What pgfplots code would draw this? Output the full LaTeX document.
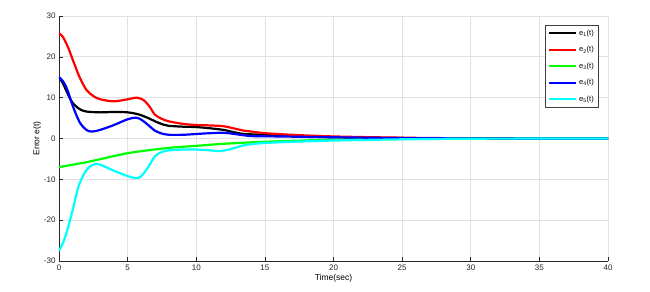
\documentclass[border=0pt]{standalone}
\usepackage{pgfplots}
\pgfplotsset{compat=1.18}
\usepackage{fontspec}
\setmainfont{Liberation Sans}
\definecolor{gridc}{RGB}{225,225,225}
\definecolor{axc}{RGB}{40,40,40}
\definecolor{cR}{RGB}{255,0,0}
\definecolor{cG}{RGB}{0,255,0}
\definecolor{cB}{RGB}{0,0,255}
\definecolor{cC}{RGB}{0,255,255}
\begin{document}
\begin{tikzpicture}
\begin{axis}[
  width=549pt, height=245pt, scale only axis,
  xmin=0, xmax=40, ymin=-30, ymax=30,
  xtick={0,5,...,40}, ytick={-30,-20,...,30},
  axis x line*=bottom, axis y line*=left,
  axis line style={axc, line width=0.8pt},
  tick style={axc, line width=0.6pt},
  major tick length=4pt,
  tick align=inside,
  grid=major, major grid style={gridc, line width=0.7pt},
  /pgf/number format/assume math mode=true,
  ticklabel style={font=\fontsize{8}{9}\selectfont, text=black!85},
  xlabel={Time(sec)}, ylabel={Error e(t)},
  label style={font=\fontsize{8.5}{10}\selectfont},
  xlabel style={yshift=3pt},
  ylabel style={yshift=-4pt},
  legend style={at={(0.983,0.963)}, anchor=north east, draw=black!75, line width=0.7pt,
    font=\fontsize{7.5}{9}\selectfont, inner sep=2.5pt, row sep=5.5pt,
    legend cell align=left},
  legend image code/.code={\draw[#1, line width=2.2pt] (0cm,0cm) -- (0.95cm,0cm);},
  every axis plot/.append style={line width=2.2pt, smooth, tension=0.5},
]
\coordinate (bl) at (rel axis cs:0,0);
\coordinate (tr) at (rel axis cs:1,1);
% e1 black
\addplot[black] coordinates {(0,15) (0.3,13.4) (0.7,10.5) (1,8.7) (1.5,7.2) (2,6.6) (3,6.4) (4,6.5) (5,6.4) (5.8,5.9) (6.5,5.0) (7,4.2) (7.6,3.4) (8,3.1) (9,2.9) (10,2.8) (11,2.5) (12,2.1) (12.8,1.5) (13.5,1.1) (15,0.9) (17,0.6) (20,0.3) (25,0.1) (30,0.02) (40,0)};
% e2 red
\addplot[cR] coordinates {(0,25.8) (0.3,24.8) (0.7,22) (1,19.3) (1.5,15) (2,11.9) (2.5,10.4) (3,9.6) (4,9.1) (5,9.6) (5.7,10) (6.2,9.3) (6.6,7.8) (7,5.8) (7.5,4.8) (8,4.2) (9,3.6) (10,3.3) (11,3.2) (12,3.0) (12.7,2.5) (13.5,1.9) (14,1.7) (15,1.3) (17,0.9) (20,0.5) (25,0.2) (30,0.05) (40,0)};
% e3 green
\addplot[cG] coordinates {(0,-7) (2,-5.8) (4,-4.3) (5,-3.6) (6,-3.1) (8,-2.3) (10,-1.8) (12,-1.3) (15,-0.8) (20,-0.3) (25,-0.1) (30,-0.02) (40,0)};
% e4 blue
\addplot[cB] coordinates {(0,15) (0.3,14) (0.6,12) (1,8) (1.5,4) (2,2.1) (2.4,1.7) (3,2.1) (4,3.3) (5,4.7) (5.6,5.1) (6,4.6) (6.5,3.3) (7,1.9) (7.6,1.1) (8,0.9) (9,0.9) (10,1.1) (11,1.3) (12,1.4) (12.8,1.1) (14,0.6) (16,0.5) (20,0.3) (25,0.1) (30,0.02) (40,0)};
% e5 cyan
\addplot[cC] coordinates {(0,-27.5) (0.3,-25.5) (0.6,-22.5) (1,-17.5) (1.4,-12) (1.8,-8.8) (2.2,-7) (2.6,-6.3) (3,-6.4) (4,-7.9) (5,-9.2) (5.6,-9.7) (6,-9.2) (6.5,-7) (7,-4.3) (7.5,-3.3) (8,-2.9) (9,-2.7) (10,-2.7) (11,-2.9) (11.7,-3.1) (12.5,-2.6) (13.3,-1.8) (14,-1.4) (15,-1.1) (17,-0.8) (20,-0.5) (25,-0.2) (30,-0.05) (40,0)};
\legend{e\textsubscript{1}(t), e\textsubscript{2}(t), e\textsubscript{3}(t), e\textsubscript{4}(t), e\textsubscript{5}(t)}
\end{axis}
\path ([xshift=-59pt,yshift=-31pt]bl) rectangle ([xshift=42pt,yshift=16pt]tr);
\end{tikzpicture}
\end{document}
